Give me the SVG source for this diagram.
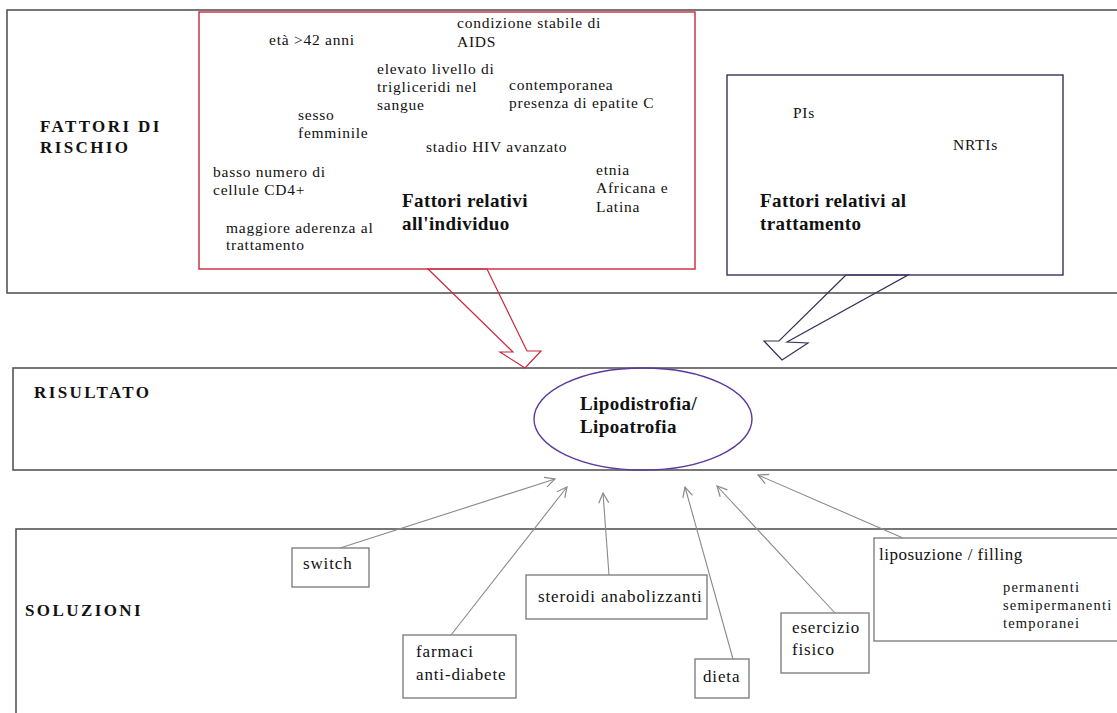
<svg xmlns="http://www.w3.org/2000/svg" width="1117" height="713" viewBox="0 0 1117 713">
<defs>
<style>
text{font-family:"Liberation Serif",Tinos,"DejaVu Serif","Noto Serif","Times New Roman",serif;fill:#111}
.t{font-size:15.5px;letter-spacing:0.75px}
.h{font-size:17px;font-weight:bold;letter-spacing:2.4px}
.b{font-size:19px;font-weight:bold;letter-spacing:0.4px}
.s{font-size:17px;letter-spacing:0.85px}
.m{font-size:14.5px;letter-spacing:1.2px}
.big{fill:none;stroke:#555;stroke-width:1.6}
.box{fill:#fff;stroke:#777;stroke-width:1.3}
.con{fill:none;stroke:#8a8a8a;stroke-width:1.1}
</style>
<marker id="ah" viewBox="0 0 12 12" refX="11" refY="6" markerWidth="12" markerHeight="12" markerUnits="userSpaceOnUse" orient="auto">
<path d="M1,1 L11,6 L1,11" fill="none" stroke="#8a8a8a" stroke-width="1.2"/>
</marker>
</defs>
<rect width="1117" height="713" fill="#fff"/>

<g id="fattori-di-rischio">
<rect class="big" x="7" y="10" width="1125" height="283"/>
<text class="h" x="40" y="132">FATTORI DI</text>
<text class="h" x="40" y="153">RISCHIO</text>
</g>

<g id="fattori-individuo">
<rect x="199" y="12" width="496" height="257" fill="none" stroke="#c8283c" stroke-width="1.4"/>
<text class="t" x="269" y="45">età &gt;42 anni</text>
<text class="t" x="457" y="28">condizione stabile di</text>
<text class="t" x="457" y="47">AIDS</text>
<text class="t" x="377" y="74">elevato livello di</text>
<text class="t" x="377" y="92">trigliceridi nel</text>
<text class="t" x="377" y="110">sangue</text>
<text class="t" x="509" y="90">contemporanea</text>
<text class="t" x="509" y="108">presenza di epatite C</text>
<text class="t" x="298" y="120">sesso</text>
<text class="t" x="298" y="138">femminile</text>
<text class="t" x="426" y="152">stadio HIV avanzato</text>
<text class="t" x="213" y="177">basso numero di</text>
<text class="t" x="213" y="195">cellule CD4+</text>
<text class="t" x="596" y="175">etnia</text>
<text class="t" x="596" y="193">Africana e</text>
<text class="t" x="596" y="212">Latina</text>
<text class="b" x="402" y="207">Fattori relativi</text>
<text class="b" x="402" y="230">all'individuo</text>
<text class="t" x="226" y="233">maggiore aderenza al</text>
<text class="t" x="226" y="250">trattamento</text>
</g>

<g id="fattori-trattamento">
<rect x="727" y="75" width="336" height="200" fill="none" stroke="#33335a" stroke-width="1.4"/>
<text class="t" x="793" y="118">PIs</text>
<text class="t" x="953" y="150">NRTIs</text>
<text class="b" x="760" y="207">Fattori relativi al</text>
<text class="b" x="760" y="230">trattamento</text>
</g>

<g id="risultato">
<rect class="big" x="13" y="368" width="1120" height="102"/>
<text class="h" x="34" y="398">RISULTATO</text>
</g>

<g id="lipodistrofia">
<ellipse cx="643" cy="419" rx="109" ry="51" fill="none" stroke="#5b3a9b" stroke-width="1.4"/>
<text class="b" x="580" y="410">Lipodistrofia/</text>
<text class="b" x="580" y="433">Lipoatrofia</text>
</g>

<g id="soluzioni">
<rect class="big" x="16" y="529" width="1120" height="210"/>
<text class="h" x="25" y="616">SOLUZIONI</text>
</g>

<g id="switch">
<rect class="box" x="292" y="548" width="77" height="39"/>
<text class="s" x="303" y="569">switch</text>
</g>
<g id="farmaci">
<rect class="box" x="403" y="635" width="113" height="63"/>
<text class="s" x="416" y="657">farmaci</text>
<text class="s" x="416" y="680">anti-diabete</text>
</g>
<g id="steroidi">
<rect class="box" x="526" y="575" width="181" height="44"/>
<text class="s" x="538" y="602">steroidi anabolizzanti</text>
</g>
<g id="dieta">
<rect class="box" x="695" y="659" width="54" height="39"/>
<text class="s" x="703" y="682">dieta</text>
</g>
<g id="esercizio">
<rect class="box" x="781" y="613" width="88" height="60"/>
<text class="s" x="792" y="633">esercizio</text>
<text class="s" x="792" y="655">fisico</text>
</g>
<g id="liposuzione">
<rect class="box" x="874" y="538" width="260" height="103"/>
<text class="s" x="879" y="560" style="letter-spacing:0.5px">liposuzione / filling</text>
<text class="m" x="1003" y="592">permanenti</text>
<text class="m" x="1003" y="610">semipermanenti</text>
<text class="m" x="1003" y="628">temporanei</text>
</g>

<g id="connectors">
<polygon points="428,269 513,352 500,352 525,368 541,351 527,351 487,269" fill="none" stroke="#c8283c" stroke-width="1.2"/>
<polygon points="846,275 779,341 764,341 782,360 808,343 787,342 908,275" fill="none" stroke="#33335a" stroke-width="1.2"/>
<line class="con" x1="340" y1="548" x2="555" y2="479" marker-end="url(#ah)"/>
<line class="con" x1="451" y1="635" x2="567" y2="487" marker-end="url(#ah)"/>
<line class="con" x1="609" y1="575" x2="603" y2="493" marker-end="url(#ah)"/>
<line class="con" x1="733" y1="659" x2="685" y2="487" marker-end="url(#ah)"/>
<line class="con" x1="835" y1="613" x2="717" y2="486" marker-end="url(#ah)"/>
<line class="con" x1="903" y1="538" x2="758" y2="475" marker-end="url(#ah)"/>
</g>
</svg>
